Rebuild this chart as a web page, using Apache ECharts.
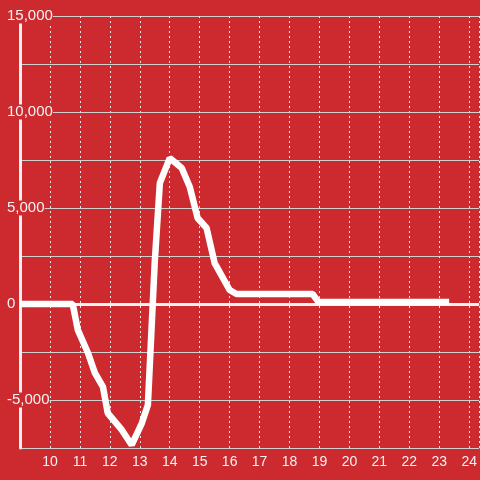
<!DOCTYPE html>
<html>
<head>
<meta charset="utf-8">
<script src="https://cdn.jsdelivr.net/npm/echarts@6/dist/echarts.min.js"></script>
<style>
  html, body { margin: 0; padding: 0; background: #cc2a2e; }
  #chart { width: 480px; height: 480px; }
</style>
</head>
<body>
<div id="chart"></div>
<script>
// hour of day
var hours = [9, 10.76, 10.93, 11.27, 11.5, 11.77, 11.93, 12.4, 12.73, 13.07, 13.27, 13.5, 13.67,
    14.0, 14.4, 14.67, 14.93, 15.23, 15.5, 16.0, 16.23, 18.77, 18.97, 23.33];
var values = [0, 0, -1350, -2550, -3590, -4320, -5680, -6560, -7340, -6200, -5260, 2200, 6300,
    7600, 7080, 6090, 4480, 3960, 2130, 730, 520, 520, 100, 100];
var xTicks = [10, 11, 12, 13, 14, 15, 16, 17, 18, 19, 20, 21, 22, 23, 24];
var yLabels = [-5000, 0, 5000, 10000, 15000];

var chart = echarts.init(document.getElementById('chart'));
var points = [];
for (var i = 0; i < hours.length; i++) {
    points.push([hours[i], values[i]]);
}

var option = {
    backgroundColor: '#cc2a2e',
    animation: false,
    grid: { left: 20, right: 0, top: 16, bottom: 32 },
    xAxis: {
        type: 'value',
        min: 9,
        max: 24.333,
        interval: 1,
        axisLine: { show: false },
        axisTick: { show: false },
        axisLabel: {
            color: '#f2f2f2',
            fontSize: 14,
            fontFamily: 'Liberation Sans',
            margin: 7,
            showMaxLabel: false,
            formatter: function (v) {
                return xTicks.indexOf(v) >= 0 ? String(v) : '';
            }
        },
        splitLine: {
            show: true,
            lineStyle: { color: '#e6e6e6', width: 1, type: [2, 3] }
        }
    },
    yAxis: {
        type: 'value',
        min: -7500,
        max: 15000,
        interval: 2500,
        axisLine: { show: true, onZero: false, lineStyle: { color: '#f2f2f2', width: 3 } },
        axisTick: { show: false },
        axisLabel: {
            color: '#f2f2f2',
            fontSize: 15,
            fontFamily: 'Liberation Sans',
            align: 'left',
            margin: 13,
            backgroundColor: '#cc2a2e',
            formatter: function (v) {
                return yLabels.indexOf(v) >= 0 ? v.toLocaleString('en-US') : '';
            }
        },
        splitLine: {
            show: true,
            lineStyle: { color: '#d0d0d0', width: 1 }
        }
    },
    series: [{
        type: 'line',
        data: points,
        symbol: 'none',
        lineStyle: { color: '#ffffff', width: 6.5 },
        z: 3,
        markLine: {
            silent: true,
            symbol: 'none',
            label: { show: false },
            lineStyle: { color: '#f2f2f2', width: 3, type: 'solid' },
            data: [{ yAxis: 0 }],
            z: 2
        }
    }]
};
chart.setOption(option);
</script>
</body>
</html>
